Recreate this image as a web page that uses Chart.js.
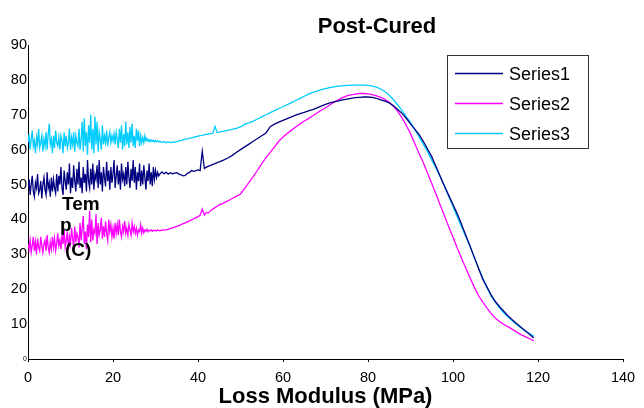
<!DOCTYPE html>
<html>
<head>
<meta charset="utf-8">
<script src="https://cdn.jsdelivr.net/npm/chart.js@4"></script>
<style>
  html, body { margin: 0; padding: 0; background: #fff; }
  canvas { display: block; }
</style>
</head>
<body>
<canvas id="chart" width="644" height="408"></canvas>
<script>
const chartTitle = 'Post-Cured';
const xTitle = 'Loss Modulus (MPa)';
const yTitleLines = ['Tem', 'p', '(C)'];
const seriesNames = ['Series1', 'Series2', 'Series3'];
const seriesColors = ['#000080', '#ff00ff', '#00ccff'];

// loss modulus readings (x)
const modulus = [
  0, 0.25, 0.5, 0.75, 1, 1.25, 1.5, 1.75, 2, 2.25, 2.5, 2.75, 3, 3.25, 3.5, 3.75,
  4, 4.25, 4.5, 4.75, 5, 5.25, 5.5, 5.75, 6, 6.25, 6.5, 6.75, 7, 7.25, 7.5, 7.75,
  8, 8.25, 8.5, 8.75, 9, 9.25, 9.5, 9.75, 10, 10.25, 10.5, 10.75, 11, 11.25, 11.5, 11.75,
  12, 12.25, 12.5, 12.75, 13, 13.25, 13.5, 13.75, 14, 14.25, 14.5, 14.75, 15, 15.25, 15.5, 15.75,
  16, 16.25, 16.5, 16.75, 17, 17.25, 17.5, 17.75, 18, 18.25, 18.5, 18.75, 19, 19.25, 19.5, 19.75,
  20, 20.25, 20.5, 20.75, 21, 21.25, 21.5, 21.75, 22, 22.25, 22.5, 22.75, 23, 23.25, 23.5, 23.75,
  24, 24.25, 24.5, 24.75, 25, 25.25, 25.5, 25.75, 26, 26.25, 26.5, 26.75, 27, 27.25, 27.5, 27.75,
  28, 28.25, 28.5, 28.75, 29, 29.25, 29.5, 29.75, 30, 30.25, 30.5, 30.75,
  31, 31.5, 32, 32.5, 33, 33.5, 34, 34.5, 35, 35.5, 36, 36.5, 37, 37.5, 38, 38.5,
  39, 39.5, 40, 40.5, 41, 41.5, 42, 42.5, 43, 43.5, 44, 44.5,
  45, 46, 47, 48, 49, 50, 51, 52, 53, 54, 55, 56, 57, 58, 59, 60, 61, 62, 63, 64,
  65, 66, 67, 68, 69, 70, 71, 72, 73, 74, 75, 76, 77, 78, 79, 80, 81, 82, 83, 84,
  85, 86, 87, 88, 89, 90, 91, 92, 93, 94, 95, 96, 97, 98, 99, 100, 101, 102, 103, 104,
  105, 106, 107, 108, 109, 110, 111, 112, 113, 114, 115, 116, 117, 118, 119
];

// temperature (C)
const series1 = [
  49, 51.5, 47, 50, 52.5, 48, 46.5, 50.5, 49, 53, 47.5, 48.5, 51, 46, 50, 52,
  48.5, 47, 53.5, 49, 50.5, 46.5, 52, 48, 51.5, 49, 47.5, 53, 48, 52.5, 50, 55,
  49, 47, 54, 51, 48.5, 53.5, 50, 56, 47.5, 52, 49, 55.5, 51, 48, 54.5, 50,
  56.5, 49, 52, 47.5, 55, 50.5, 53, 48, 57, 51, 49, 54.5, 50, 56, 48.5, 53,
  51.5, 55.5, 49, 57, 50, 53.5, 48, 55, 52, 49.5, 56.5, 51, 54, 48.5, 55, 50.5,
  53, 57, 49, 52.5, 55.5, 50, 54, 48.5, 56, 51.5, 53, 49.5, 55, 50, 56.5, 52,
  49, 54.5, 51, 57, 50.5, 55, 48.5, 53.5, 51, 56, 49.5, 54, 50, 55.5, 52, 48.5,
  54, 51, 56, 50, 53.5, 49.5, 55, 51.5, 54, 52, 53.5, 52.5,
  53, 53.6, 53.1, 53.5, 53, 53.4, 53.1, 53.3, 53.4, 53, 52.8, 52.5, 52.6, 53.2, 53.5, 54,
  53.8, 54, 54.2, 54, 59.5, 54.6, 55, 55.3, 55.5, 55.8, 56, 56.3,
  56.5, 57, 57.6, 58.3, 59.2, 60, 60.8, 61.6, 62.4, 63.2, 64, 64.8, 66.6, 67.3, 67.9, 68.4, 68.9, 69.4, 69.9, 70.3,
  70.7, 71.1, 71.5, 72, 72.5, 73, 73.4, 73.7, 74, 74.3, 74.5, 74.7, 74.9, 75, 75.1, 75.1, 75, 74.7, 74.3, 73.9,
  73.4, 72.6, 71.5, 70.4, 69, 67.4, 65.9, 64.4, 62.4, 60.2, 58, 55.2, 52.3, 49.5, 46.9, 44.3, 41.6, 38.6, 35.5, 32.4,
  29.2, 26, 22.9, 20.6, 18.3, 16.4, 14.9, 13.6, 12.3, 11.2, 10.1, 9.1, 8.1, 7.1, 6
];

const series2 = [
  33, 31.5, 34, 30.5, 32.5, 35, 31, 33.5, 30, 34.5, 32, 31, 35, 32.5, 30.5, 33,
  34, 31, 35.5, 32, 30.5, 33.5, 31.5, 35, 32, 34.5, 31, 33, 36, 32.5, 34, 31.5,
  35.5, 33, 37, 32, 34, 36.5, 31.5, 35, 33, 37.5, 34.5, 32, 38, 33.5, 36, 35,
  32, 39, 34, 37.5, 41, 33, 36.5, 31.5, 38.5, 35, 42.5, 33.5, 40, 34, 37, 36,
  41.5, 33, 39, 35.5, 37, 40.5, 34.5, 38, 35, 39.5, 36, 34, 40, 36.5, 38.5, 35,
  37.5, 34.5, 39, 36, 38.5, 35.5, 40, 36.5, 35, 38, 36.5, 39.5, 36, 37.5, 35.5, 38.5,
  37, 35.5, 39, 36.5, 38, 36, 37.5, 35.5, 37, 36.5, 38.5, 36, 37.5, 36.2, 37, 36.6,
  37.2, 36.5, 36.9, 36.7, 37, 36.6, 36.9, 36.8, 36.9, 36.7, 37, 36.8,
  36.8, 36.9, 37, 37, 37.2, 37.4, 37.6, 37.8, 38, 38.2, 38.5, 38.8, 39, 39.3, 39.6, 39.9,
  40.2, 40.5, 40.8, 41.2, 43, 41.2, 42, 41.9, 42.6, 43, 43.4, 43.8,
  44.2, 44.7, 45.3, 46, 46.6, 47.3, 48.9, 50.6, 52.3, 54.1, 56, 57.7, 59.2, 60.8, 62.4, 63.6, 64.6, 65.6, 66.5, 67.4,
  68.2, 68.9, 69.7, 70.5, 71.3, 72, 72.8, 73.6, 74.3, 74.9, 75.4, 75.7, 75.9, 76.1, 76.1, 76, 75.8, 75.4, 75, 74.4,
  73.5, 72.4, 71, 69.1, 67, 64.6, 61.8, 59, 56.3, 53.3, 50.3, 47.2, 44.1, 41, 37.9, 34.9, 31.8, 28.9, 26.1, 23.3,
  20.6, 18.2, 16.3, 14.6, 13, 11.7, 10.7, 9.9, 9.2, 8.5, 7.7, 7, 6.4, 5.8, 5.2
];

const series3 = [
  62, 64.5, 60, 63, 65.5, 61, 62.5, 59, 63.5, 61.5, 66, 60.5, 62, 64, 59.5, 63,
  61, 65, 60, 64.5, 67.5, 61.5, 63, 59, 64, 60.5, 65.5, 62, 61, 63.5, 60, 64,
  62.5, 59, 65, 61, 64, 60.5, 62, 66, 60, 63.5, 61.5, 65, 59.5, 64, 62, 61,
  66, 60, 63, 68, 59.5, 69, 61, 65, 58.5, 67, 62, 70, 60, 66, 59, 69.5,
  61.5, 68, 59.5, 65, 63, 60, 67, 61.5, 64, 62, 65.5, 61, 63.5, 65, 62, 64,
  62.5, 64.5, 61.5, 65, 63, 60.5, 66, 62, 67, 60, 64.5, 61, 68, 61.5, 65, 60.5,
  66.5, 62, 67.5, 61, 64, 60.5, 66, 62.5, 65.5, 61, 64, 62, 63.5, 62, 64, 62.5,
  63.2, 62.4, 62.9, 62.3, 62.8, 62.4, 62.7, 62.2, 62.6, 62.3, 62.5, 62.2,
  62.4, 62.1, 62.3, 62, 62.2, 62, 62.1, 62.2, 62.3, 62.5, 62.6, 62.8, 63, 63.1, 63.3, 63.4,
  63.6, 63.7, 63.9, 64, 64.1, 64.3, 64.4, 64.5, 64.6, 64.7, 66.7, 64.9,
  65, 65.3, 65.5, 65.8, 66.1, 66.5, 67.3, 67.7, 68.2, 68.8, 69.4, 70, 70.6, 71.2, 71.8, 72.3, 72.9, 73.5, 74.1, 74.7,
  75.3, 75.9, 76.4, 76.8, 77.2, 77.5, 77.8, 78, 78.2, 78.3, 78.4, 78.5, 78.5, 78.5, 78.5, 78.4, 78.2, 77.9, 77.4, 76.6,
  75.6, 74.3, 72.8, 71.2, 69.5, 67.8, 65.8, 63.7, 61.6, 59.5, 57, 54.7, 52.3, 49.5, 46.6, 43.7, 40.8, 37.9, 35.1, 32.3,
  29.2, 26.1, 23.2, 20.5, 18, 16.2, 14.6, 13.2, 12, 10.9, 9.9, 8.9, 8.1, 7.3, 6.6
];

const xTicks = { min: 0, max: 140, step: 20 };
const yTicks = { min: 0, max: 90, step: 10 };

const FONT = '"Liberation Sans", Arial, sans-serif';
Chart.defaults.font.family = FONT;
Chart.defaults.color = '#000';

function pts(ys) {
  return ys.map((y, i) => ({ x: modulus[i], y: y }));
}

// title, axis label inside the plot and boxed legend, as in the original sheet
const overlay = {
  id: 'overlay',
  afterDraw(chart) {
    const c = chart.ctx;
    c.save();
    c.fillStyle = '#000';
    c.textBaseline = 'alphabetic';

    c.font = 'bold 22px ' + FONT;
    c.textAlign = 'center';
    c.fillText(chartTitle, 377, 33);

    c.font = 'bold 19px ' + FONT;
    c.textAlign = 'left';
    c.fillText(yTitleLines[0], 62, 210);
    c.fillText(yTitleLines[1], 60, 231);
    c.fillText(yTitleLines[2], 65, 256);

    c.fillStyle = '#fff';
    c.fillRect(447.5, 55.5, 141, 93);
    c.strokeStyle = '#333';
    c.lineWidth = 1;
    c.strokeRect(447.5, 55.5, 141, 93);
    c.font = '18px ' + FONT;
    chart.data.datasets.forEach((ds, i) => {
      const y = 73.5 + i * 30;
      c.strokeStyle = ds.borderColor;
      c.lineWidth = 1.3;
      c.beginPath();
      c.moveTo(455, y);
      c.lineTo(503, y);
      c.stroke();
      c.fillStyle = '#000';
      c.fillText(ds.label, 509, y + 6.5);
    });
    c.restore();
  }
};

new Chart(document.getElementById('chart'), {
  type: 'line',
  data: {
    datasets: [
      { label: seriesNames[0], data: pts(series1), borderColor: seriesColors[0] },
      { label: seriesNames[1], data: pts(series2), borderColor: seriesColors[1] },
      { label: seriesNames[2], data: pts(series3), borderColor: seriesColors[2] }
    ]
  },
  options: {
    responsive: false,
    animation: false,
    devicePixelRatio: 1,
    layout: { padding: { top: 45, right: 21, bottom: 0, left: 0 } },
    elements: {
      point: { radius: 0 },
      line: { borderWidth: 1.3, tension: 0 }
    },
    plugins: {
      legend: { display: false },
      title: { display: false },
      tooltip: { enabled: false }
    },
    scales: {
      x: {
        type: 'linear',
        min: xTicks.min,
        max: xTicks.max,
        ticks: { stepSize: xTicks.step, color: '#000', font: { size: 14.5 }, padding: 7, maxRotation: 0 },
        grid: { drawOnChartArea: false, drawTicks: true, tickLength: 3, color: '#000' },
        border: { color: '#000', width: 1 },
        title: {
          display: true, text: xTitle, color: '#000',
          font: { size: 22, weight: 'bold', lineHeight: 1 }, padding: { top: 0, bottom: 0 }
        },
        afterFit(s) { s.height = 49; }
      },
      y: {
        min: yTicks.min,
        max: yTicks.max,
        ticks: {
          stepSize: yTicks.step, color: '#000', padding: 1,
          font: (ctx) => ({ size: ctx.tick && ctx.tick.value === 0 ? 7 : 14.5 })
        },
        grid: { display: false, drawTicks: false },
        border: { display: true, color: '#000', width: 1 },
        afterFit(s) { s.width = 28; }
      }
    }
  },
  plugins: [overlay]
});
</script>
</body>
</html>
